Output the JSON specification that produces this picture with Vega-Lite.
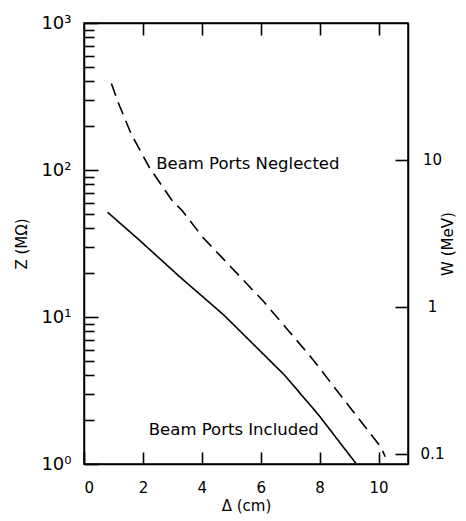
{
  "$schema": "https://vega.github.io/schema/vega-lite/v6.json",
  "autosize": "none",
  "width": 324,
  "height": 441,
  "padding": {"left": 84, "top": 23, "right": 58, "bottom": 57},
  "background": "white",
  "config": {
    "view": {"stroke": "black", "strokeWidth": 1.5},
    "axis": {
      "grid": false,
      "domainColor": "black",
      "domainWidth": 1.5,
      "tickColor": "black",
      "tickWidth": 1.6,
      "labelColor": "black",
      "titleColor": "black",
      "labelFont": "DejaVu Sans",
      "titleFont": "DejaVu Sans",
      "labelFontSize": 15,
      "titleFontSize": 15,
      "titleFontWeight": "normal"
    }
  },
  "datasets": {
    "curves": [
      {"curve": "Beam Ports Included", "d": 0.8, "Z": 51.6},
      {"curve": "Beam Ports Included", "d": 1.89, "Z": 33.2},
      {"curve": "Beam Ports Included", "d": 3.26, "Z": 18.7},
      {"curve": "Beam Ports Included", "d": 4.75, "Z": 10.3},
      {"curve": "Beam Ports Included", "d": 5.67, "Z": 6.77},
      {"curve": "Beam Ports Included", "d": 6.81, "Z": 4.02},
      {"curve": "Beam Ports Included", "d": 7.97, "Z": 2.15},
      {"curve": "Beam Ports Included", "d": 9.23, "Z": 1.01},
      {"curve": "Beam Ports Neglected", "d": 0.93, "Z": 388},
      {"curve": "Beam Ports Neglected", "d": 1.16, "Z": 288},
      {"curve": "Beam Ports Neglected", "d": 1.6, "Z": 176},
      {"curve": "Beam Ports Neglected", "d": 2.22, "Z": 104},
      {"curve": "Beam Ports Neglected", "d": 2.99, "Z": 62},
      {"curve": "Beam Ports Neglected", "d": 3.33, "Z": 53},
      {"curve": "Beam Ports Neglected", "d": 4.03, "Z": 34.9},
      {"curve": "Beam Ports Neglected", "d": 6.09, "Z": 12.8},
      {"curve": "Beam Ports Neglected", "d": 7.7, "Z": 5.35},
      {"curve": "Beam Ports Neglected", "d": 10.07, "Z": 1.31},
      {"curve": "Beam Ports Neglected", "d": 10.23, "Z": 1.12}
    ],
    "labels": [
      {"text": "Beam Ports Neglected", "d": 2.45, "Z": 102},
      {"text": "Beam Ports Included", "d": 2.2, "Z": 1.57}
    ],
    "waxis": [
      {"W": 0.1},
      {"W": 1},
      {"W": 10}
    ]
  },
  "layer": [
    {
      "layer": [
        {
          "data": {"name": "curves"},
          "mark": {"type": "line", "color": "black", "strokeWidth": 1.6, "clip": true},
          "encoding": {
            "x": {
              "field": "d", "type": "quantitative",
              "scale": {"domain": [0, 11], "nice": false, "zero": false},
              "axis": {
                "orient": "bottom",
                "title": "Δ (cm)",
                "values": [0, 2, 4, 6, 8, 10],
                "ticks": true,
                "tickSize": -12,
                "labelPadding": 28,
                "titlePadding": 3
              }
            },
            "y": {
              "field": "Z", "type": "quantitative",
              "scale": {"type": "log", "domain": [1, 1000], "nice": false},
              "axis": {
                "orient": "left",
                "title": "Z (MΩ)",
                "values": [1,2,3,4,5,6,7,8,9,10,20,30,40,50,60,70,80,90,100,200,300,400,500,600,700,800,900,1000],
                "labelExpr": "datum.value == 1 ? '10⁰' : datum.value == 10 ? '10¹' : datum.value == 100 ? '10²' : datum.value == 1000 ? '10³' : ''",
                "tickSize": {"condition": {"test": "datum.value == 1 || datum.value == 10 || datum.value == 100 || datum.value == 1000", "value": -14}, "value": -10},
                "labelPadding": 27,
                "labelFontSize": 18,
                "titlePadding": 11
              }
            },
            "strokeDash": {
              "field": "curve", "type": "nominal",
              "scale": {"domain": ["Beam Ports Included", "Beam Ports Neglected"], "range": [[1, 0], [13, 7]]},
              "legend": null
            },
            "detail": {"field": "curve"}
          }
        },
        {
          "data": {"name": "labels"},
          "mark": {"type": "text", "align": "left", "baseline": "alphabetic", "font": "DejaVu Sans", "fontSize": 16.5, "color": "black"},
          "encoding": {
            "x": {
              "field": "d", "type": "quantitative",
              "axis": {
                "orient": "top",
                "title": null,
                "values": [2, 4, 6, 8, 10],
                "labels": false,
                "ticks": true,
                "tickSize": -12
              }
            },
            "y": {"field": "Z", "type": "quantitative"},
            "text": {"field": "text"}
          }
        }
      ],
      "resolve": {"axis": {"x": "independent"}}
    },
    {
      "data": {"name": "waxis"},
      "mark": {"type": "point", "opacity": 0},
      "encoding": {
        "y": {
          "field": "W", "type": "quantitative",
          "scale": {"type": "log", "domain": [0.0855, 85.5], "nice": false},
          "axis": {
            "orient": "right",
            "title": "W (MeV)",
            "titleAngle": -90,
            "values": [0.1, 1, 10],
            "format": "~g",
            "tickSize": -13,
            "labelAlign": "center",
            "labelPadding": 37,
            "titlePadding": 12
          }
        }
      }
    }
  ],
  "resolve": {"scale": {"y": "independent"}, "axis": {"y": "independent"}}
}
